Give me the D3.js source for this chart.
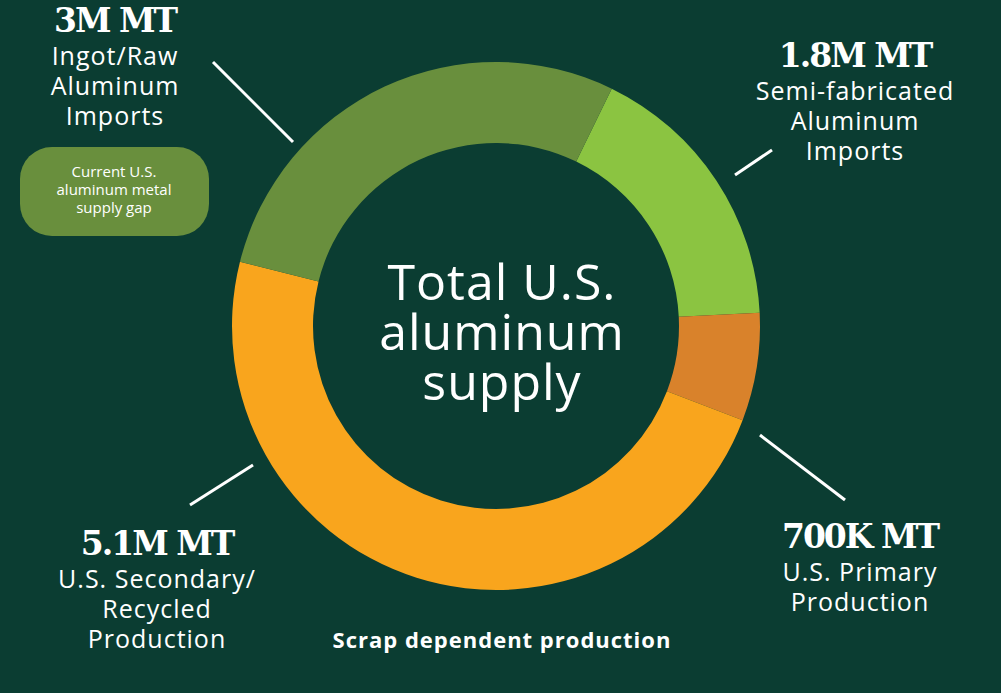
<!DOCTYPE html>
<html><head><meta charset="utf-8">
<script src="https://cdn.jsdelivr.net/npm/d3@7"></script>
<style>body{margin:0;background:#0b3d32;}svg{display:block;}</style>
</head><body>
<script>
// data
const categories = ["Semi-fabricated Aluminum Imports", "U.S. Primary Production", "U.S. Secondary/Recycled Production", "Ingot/Raw Aluminum Imports"];
const values = [1.8, 0.7, 5.1, 3.0];
const valueLabels = ["1.8M MT", "700K MT", "5.1M MT", "3M MT"];
const colors = ["#8bc441", "#d9822b", "#f9a51d", "#698f3d"];

const W = 1001, H = 693, cx = 496, cy = 326;
const svg = d3.select("body").append("svg").attr("width", W).attr("height", H);
svg.append("rect").attr("width", W).attr("height", H).attr("fill", "#0b3d32");

const start = 26 * Math.PI / 180;
const pie = d3.pie().sort(null).startAngle(start).endAngle(start + 2 * Math.PI);
const arc = d3.arc().innerRadius(183).outerRadius(264);
svg.append("g").attr("transform", `translate(${cx},${cy})`)
  .selectAll("path").data(pie(values)).enter().append("path")
  .attr("d", arc).attr("fill", (d, i) => colors[i]);

// center text
const center = svg.append("text").attr("text-anchor", "middle").attr("fill", "#fff")
  .attr("font-family", "Open Sans, sans-serif").attr("font-size", 50).attr("letter-spacing", 1);
["Total U.S.", "aluminum", "supply"].forEach((t, i) =>
  center.append("tspan").attr("x", cx + 6).attr("y", 300 + i * 50).text(t));

// labels
const labels = [
  {x: 855, y: 67, lines: ["Semi-fabricated", "Aluminum", "Imports"]},
  {x: 860, y: 548, lines: ["U.S. Primary", "Production"]},
  {x: 157, y: 555, lines: ["U.S. Secondary/", "Recycled", "Production"]},
  {x: 115, y: 32, lines: ["Ingot/Raw", "Aluminum", "Imports"]}
];
labels.forEach((l, i) => {
  svg.append("text").attr("x", l.x).attr("y", l.y).attr("text-anchor", "middle")
    .attr("fill", "#fff").attr("font-family", "DejaVu Serif, serif").attr("font-weight", "bold")
    .attr("font-size", 33).attr("letter-spacing", -2).text(valueLabels[i]);
  const t = svg.append("text").attr("text-anchor", "middle").attr("fill", "#fff")
    .attr("font-family", "Open Sans, sans-serif").attr("font-size", 25).attr("letter-spacing", 1);
  l.lines.forEach((s, j) => t.append("tspan").attr("x", l.x).attr("y", l.y + 33 + j * 30).text(s));
});

// leader lines
const leaders = [[735, 175, 772, 150], [760, 435, 845, 500], [190, 505, 253, 465], [213, 62, 293, 142]];
svg.selectAll("line.leader").data(leaders).enter().append("line")
  .attr("x1", d => d[0]).attr("y1", d => d[1]).attr("x2", d => d[2]).attr("y2", d => d[3])
  .attr("stroke", "#fff").attr("stroke-width", 3);

// pill
svg.append("rect").attr("x", 20).attr("y", 147).attr("width", 189).attr("height", 89)
  .attr("rx", 32).attr("fill", "#698f3d");
const pill = svg.append("text").attr("text-anchor", "middle").attr("fill", "#fff")
  .attr("font-family", "Open Sans, sans-serif").attr("font-size", 15);
["Current U.S.", "aluminum metal", "supply gap"].forEach((s, j) =>
  pill.append("tspan").attr("x", 114).attr("y", 177 + j * 18).text(s));

svg.append("text").attr("x", 502).attr("y", 648).attr("text-anchor", "middle").attr("fill", "#fff")
  .attr("font-family", "Open Sans, sans-serif").attr("font-weight", "bold").attr("font-size", 22)
  .attr("letter-spacing", 1).text("Scrap dependent production");
</script>
</body></html>
